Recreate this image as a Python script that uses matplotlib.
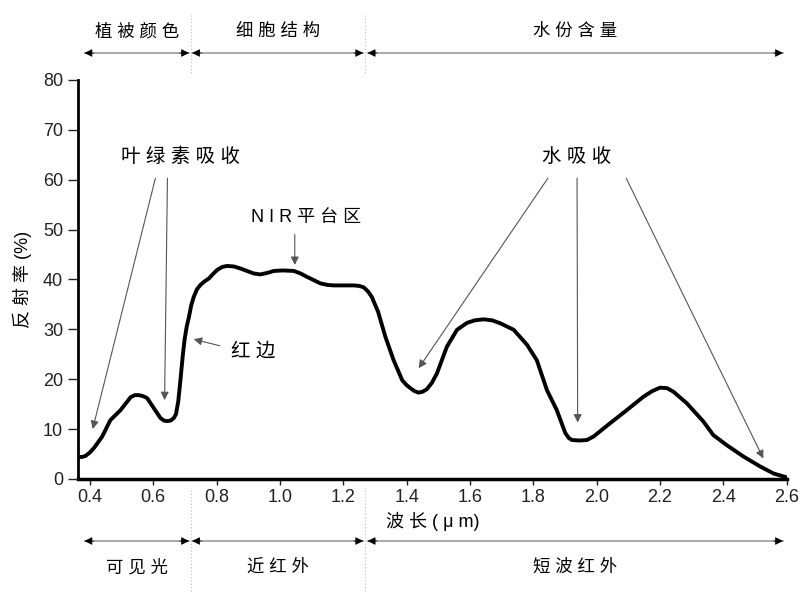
import numpy as np
import matplotlib.pyplot as plt
from matplotlib.transforms import blended_transform_factory
from matplotlib.lines import Line2D

plt.rcParams['font.family'] = ['Liberation Sans', 'Noto Sans CJK SC', 'DejaVu Sans']

# spectral reflectance curve
wavelength = [0.363, 0.375, 0.386, 0.400, 0.413, 0.439, 0.465, 0.497, 0.529, 0.542, 0.555,
              0.568, 0.581, 0.602, 0.623, 0.634, 0.644, 0.655, 0.665, 0.672, 0.679,
              0.686, 0.693, 0.699, 0.706, 0.713, 0.720, 0.728, 0.738, 0.749, 0.762,
              0.776, 0.789, 0.802, 0.818, 0.833, 0.855, 0.875, 0.917, 0.938, 0.960,
              0.981, 1.010, 1.044, 1.065, 1.086, 1.128, 1.150, 1.170, 1.233, 1.250,
              1.265, 1.278, 1.290, 1.310, 1.333, 1.359, 1.386, 1.400, 1.412, 1.425,
              1.438, 1.451, 1.464, 1.480, 1.496, 1.527, 1.559, 1.591, 1.615, 1.643,
              1.670, 1.696, 1.738, 1.780, 1.811, 1.843, 1.874, 1.901, 1.912, 1.922,
              1.945, 1.969, 1.990, 2.043, 2.095, 2.148, 2.175, 2.200, 2.222, 2.242,
              2.284, 2.337, 2.368, 2.410, 2.463, 2.516, 2.558, 2.600]
reflectance = [4.4, 4.4, 4.6, 5.3, 6.2, 8.5, 11.8, 13.8, 16.4, 16.8, 16.8,
               16.6, 16.2, 14.2, 12.2, 11.7, 11.6, 11.7, 12.2, 13.0, 15.5,
               19.8, 24.5, 27.9, 30.6, 32.5, 34.8, 36.5, 38.0, 38.9, 39.6,
               40.2, 41.1, 41.9, 42.5, 42.7, 42.6, 42.2, 41.2, 41.0, 41.3,
               41.7, 41.8, 41.7, 41.2, 40.5, 39.2, 38.9, 38.8, 38.8, 38.7,
               38.4, 37.6, 36.5, 33.5, 28.5, 23.8, 19.8, 18.8, 18.2, 17.6,
               17.3, 17.5, 18.0, 19.3, 21.2, 26.5, 29.9, 31.3, 31.8, 32.0,
               31.8, 31.2, 29.9, 26.9, 23.8, 17.8, 13.8, 9.2, 8.2, 7.8,
               7.7, 7.8, 8.5, 11.2, 13.8, 16.5, 17.6, 18.3, 18.2, 17.5,
               15.2, 11.5, 8.8, 6.8, 4.5, 2.5, 1.1, 0.3]

x_ticks = [0.4, 0.6, 0.8, 1.0, 1.2, 1.4, 1.6, 1.8, 2.0, 2.2, 2.4, 2.6]
y_ticks = [0, 10, 20, 30, 40, 50, 60, 70, 80]

# top / bottom region brackets: (start, end, label)
top_regions = [(0.383, 0.713, '植 被 颜 色'), (0.723, 1.263, '细 胞 结 构'), (1.277, 2.588, '水 份 含 量')]
bottom_regions = [(0.383, 0.713, '可 见 光'), (0.723, 1.263, '近 红 外'), (1.277, 2.588, '短 波 红 外')]
dividers = [0.718, 1.270]

fig = plt.figure(figsize=(8.02, 5.92), dpi=100)
ax = fig.add_axes([0.097, 0.191, 0.884, 0.674])

ax.plot(wavelength, reflectance, color='black', lw=2.8,
        solid_capstyle='round', solid_joinstyle='round')

ax.set_xlim(0.362, 2.6)
ax.set_ylim(0, 80)
ax.set_xticks(x_ticks)
ax.set_xticklabels(['%.1f' % t for t in x_ticks])
ax.set_yticks(y_ticks)
for s in ['top', 'right']:
    ax.spines[s].set_visible(False)
ax.spines['left'].set_linewidth(2)
ax.spines['bottom'].set_linewidth(2.5)
ax.tick_params(axis='y', direction='out', length=7, width=1, labelsize=13, colors='#222')
ax.tick_params(axis='x', direction='out', length=4, width=1, labelsize=13, colors='#222')
ax.set_ylabel('反 射 率 (%)', fontsize=13, labelpad=8)
ax.set_xlabel('波 长 ( μ m)', fontsize=13, labelpad=4)

# annotations
head = dict(arrowstyle='-|>', color='#555555', lw=0.8, mutation_scale=12,
            shrinkA=0, shrinkB=0)
txt = dict(fontsize=14, ha='center', va='center')

ax.text(0.686, 64.5, '叶 绿 素 吸 收', **txt)
ax.annotate('', xy=(0.409, 10.0), xytext=(0.607, 60.3), arrowprops=head)
ax.annotate('', xy=(0.636, 15.8), xytext=(0.645, 60.3), arrowprops=head)

ax.text(1.938, 64.5, '水 吸 收', **txt)
ax.annotate('', xy=(1.438, 22.2), xytext=(1.846, 60.3), arrowprops=head)
ax.annotate('', xy=(1.940, 11.3), xytext=(1.938, 60.3), arrowprops=head)
ax.annotate('', xy=(2.526, 4.1), xytext=(2.093, 60.3), arrowprops=head)

ax.text(1.082, 52.5, 'N I R 平 台 区', fontsize=13, ha='center', va='center')
ax.annotate('', xy=(1.047, 42.9), xytext=(1.047, 49.0), arrowprops=head)

ax.text(0.917, 25.5, '红 边', **txt)
ax.annotate('', xy=(0.728, 28.0), xytext=(0.810, 26.7), arrowprops=head)

# brackets above and below the axes
H = 592.0
bracket = dict(arrowstyle='-', color='#999999', lw=1.2, shrinkA=0, shrinkB=0)
tip = dict(arrowstyle='-|>', color='black', lw=0.5, mutation_scale=12,
           shrinkA=0, shrinkB=0)


def span(x0, x1, yf, lab, ylab):
    kw = dict(xycoords=('data', 'figure fraction'), textcoords=('data', 'figure fraction'),
              annotation_clip=False)
    ax.annotate('', xy=(x0, yf), xytext=(x1, yf), arrowprops=bracket, **kw)
    mid = (x0 + x1) / 2
    ax.annotate('', xy=(x0, yf), xytext=(x0 + 0.03, yf), arrowprops=tip, **kw)
    ax.annotate('', xy=(x1, yf), xytext=(x1 - 0.03, yf), arrowprops=tip, **kw)
    ax.annotate(lab, xy=(mid, ylab), xycoords=('data', 'figure fraction'),
                ha='center', va='center', fontsize=12.5, annotation_clip=False)


for (x0, x1, lab) in top_regions:
    span(x0, x1, 1 - 53 / H, lab, 1 - 31 / H)
for (x0, x1, lab) in bottom_regions:
    span(x0, x1, 1 - 541 / H, lab, 1 - 567 / H)

tr = blended_transform_factory(ax.transData, fig.transFigure)
for d in dividers:
    fig.add_artist(Line2D([d, d], [1 - 15 / H, 1 - 75 / H], transform=tr,
                          color='#bbbbbb', lw=0.8, ls=(0, (1, 2))))
    fig.add_artist(Line2D([d, d], [1 - 490 / H, 1 - 592 / H], transform=tr,
                          color='#bbbbbb', lw=0.8, ls=(0, (1, 2))))

fig.savefig('out.png', dpi=100)
